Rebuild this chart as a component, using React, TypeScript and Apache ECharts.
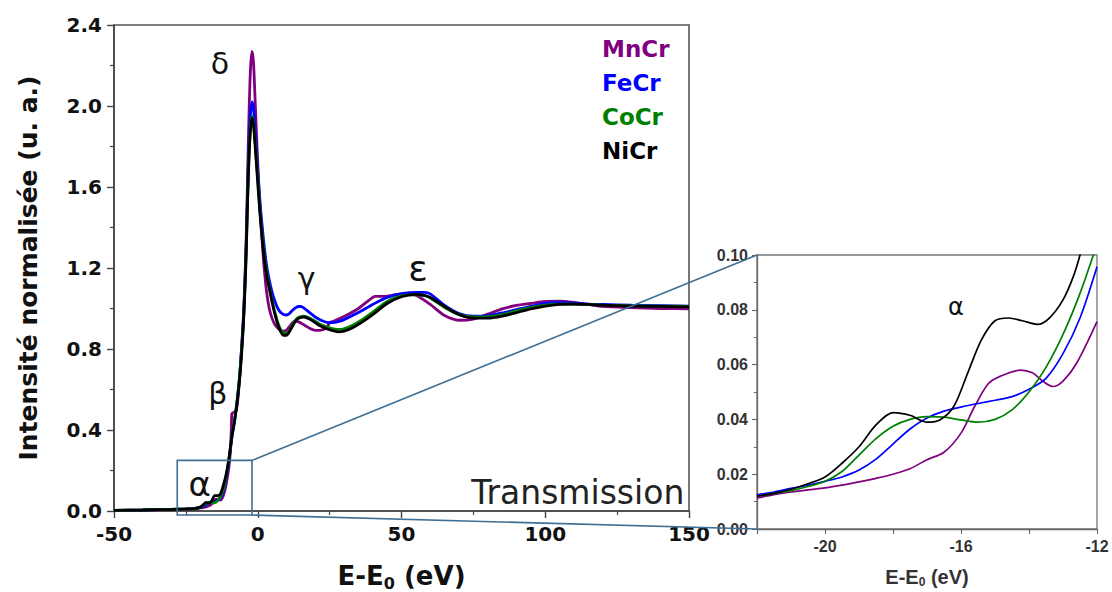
import React, { useEffect, useRef } from 'react';
import * as echarts from 'echarts';

const seriesNames = ['MnCr', 'FeCr', 'CoCr', 'NiCr'];
const seriesColors = ['#800080', '#0000ff', '#008000', '#000000'];

// Main spectra: [E-E0 (eV), normalised intensity]
const mnCr: number[][] = [
  [-50, 0.003], [-40, 0.004], [-30, 0.007], [-25, 0.009], [-22, 0.0113], [-20, 0.015], [-19, 0.0172], [-18, 0.02],
  [-17, 0.0253], [-16, 0.035], [-15, 0.0545], [-14, 0.058], [-13, 0.054], [-12, 0.0757], [-11, 0.13], [-10, 0.22],
  [-9.5, 0.3], [-9.2, 0.4], [-9, 0.48], [-8, 0.49], [-7.5, 0.495], [-7, 0.54], [-6.5, 0.62], [-6, 0.72], [-5, 0.96],
  [-4.5, 1.13], [-4, 1.36], [-3.5, 1.68], [-3, 1.98], [-2.5, 2.19], [-2, 2.27], [-1.5, 2.22], [-1, 2.06], [-0.5, 1.88],
  [0, 1.72], [0.5, 1.57], [1, 1.44], [2, 1.24], [3, 1.09], [4, 1.0], [5, 0.95], [6, 0.92], [7, 0.903], [8, 0.893],
  [9, 0.888], [10, 0.893], [11, 0.91], [12, 0.928], [13, 0.938], [14, 0.935], [16, 0.92], [18, 0.903], [20, 0.892],
  [22, 0.893], [24, 0.905], [25, 0.93], [26, 0.935], [30, 0.96], [35, 1.0], [40, 1.055], [41, 1.06], [44, 1.06],
  [48, 1.068], [52, 1.073], [55, 1.065], [60, 1.02], [65, 0.965], [70, 0.942], [75, 0.948], [80, 0.972], [85, 0.998],
  [90, 1.015], [95, 1.025], [100, 1.035], [105, 1.036], [110, 1.03], [115, 1.02], [120, 1.01], [130, 1.004], [140, 1.0],
  [150, 0.998],
];
const feCr: number[][] = [
  [-50, 0.003], [-40, 0.005], [-30, 0.008], [-25, 0.01], [-22, 0.0125], [-20, 0.0174], [-19, 0.0215], [-18, 0.031],
  [-17, 0.0405], [-16, 0.0445], [-15, 0.047], [-14, 0.051], [-13, 0.064], [-12, 0.0957], [-11, 0.16], [-10, 0.25],
  [-9, 0.36], [-8, 0.45], [-7, 0.56], [-6, 0.72], [-5, 0.94], [-4.5, 1.11], [-4, 1.32], [-3.5, 1.6], [-3, 1.83],
  [-2.5, 1.97], [-2, 2.02], [-1.5, 1.99], [-1, 1.9], [-0.5, 1.79], [0, 1.68], [0.5, 1.58], [1, 1.49], [2, 1.34],
  [3, 1.22], [4, 1.14], [5, 1.08], [6, 1.035], [7, 1.0], [8, 0.98], [9, 0.97], [10, 0.968], [11, 0.975], [12, 0.99],
  [13, 1.002], [14, 1.01], [15, 1.01], [16, 1.003], [18, 0.98], [20, 0.958], [22, 0.942], [24, 0.932], [26, 0.93],
  [28, 0.935], [30, 0.945], [35, 0.98], [40, 1.02], [45, 1.055], [50, 1.073], [55, 1.08], [58, 1.08], [60, 1.072],
  [65, 1.015], [70, 0.975], [75, 0.962], [80, 0.965], [85, 0.978], [90, 0.995], [95, 1.01], [100, 1.025], [105, 1.03],
  [110, 1.026], [115, 1.022], [120, 1.02], [130, 1.016], [140, 1.014], [150, 1.012],
];
const coCr: number[][] = [
  [-50, 0.003], [-40, 0.005], [-30, 0.008], [-25, 0.01], [-22, 0.012], [-20, 0.0174], [-19, 0.027], [-18, 0.0375],
  [-17, 0.041], [-16, 0.0398], [-15, 0.04], [-14, 0.05], [-13, 0.071], [-12, 0.104], [-11, 0.17], [-10, 0.26],
  [-9, 0.37], [-8, 0.46], [-7, 0.57], [-6, 0.72], [-5, 0.93], [-4.5, 1.09], [-4, 1.29], [-3.5, 1.56], [-3, 1.77],
  [-2.5, 1.9], [-2, 1.95], [-1.5, 1.92], [-1, 1.84], [-0.5, 1.74], [0, 1.64], [0.5, 1.54], [1, 1.45], [2, 1.3],
  [3, 1.19], [4, 1.11], [5, 1.04], [6, 0.98], [7, 0.93], [8, 0.895], [9, 0.878], [10, 0.878], [11, 0.893], [12, 0.918],
  [13, 0.94], [14, 0.955], [16, 0.962], [18, 0.953], [20, 0.937], [22, 0.92], [25, 0.905], [28, 0.897], [30, 0.9],
  [33, 0.917], [36, 0.942], [40, 0.982], [45, 1.035], [50, 1.062], [55, 1.068], [58, 1.063], [60, 1.052], [65, 1.005],
  [70, 0.97], [75, 0.958], [80, 0.96], [85, 0.97], [90, 0.988], [95, 1.005], [100, 1.017], [105, 1.022], [110, 1.022],
  [115, 1.02], [120, 1.017], [130, 1.013], [140, 1.012], [150, 1.01],
];
const niCr: number[][] = [
  [-50, 0.003], [-40, 0.005], [-30, 0.008], [-25, 0.01], [-22, 0.012], [-20, 0.019], [-19, 0.03], [-18, 0.0425],
  [-17, 0.039], [-16, 0.05], [-15, 0.076], [-14, 0.0755], [-13, 0.084], [-12, 0.125], [-11, 0.18], [-10, 0.26],
  [-9, 0.37], [-8, 0.45], [-7, 0.56], [-6, 0.7], [-5, 0.92], [-4.5, 1.08], [-4, 1.28], [-3.5, 1.55], [-3, 1.76],
  [-2.5, 1.89], [-2, 1.94], [-1.5, 1.91], [-1, 1.82], [-0.5, 1.72], [0, 1.62], [0.5, 1.52], [1, 1.43], [2, 1.28],
  [3, 1.17], [4, 1.1], [5, 1.03], [6, 0.97], [7, 0.92], [8, 0.885], [9, 0.868], [10, 0.868], [11, 0.885], [12, 0.91],
  [13, 0.935], [14, 0.95], [16, 0.958], [18, 0.948], [20, 0.93], [22, 0.912], [25, 0.895], [28, 0.885], [30, 0.888],
  [33, 0.905], [36, 0.93], [40, 0.97], [45, 1.025], [50, 1.058], [55, 1.07], [58, 1.065], [60, 1.055], [65, 1.01],
  [70, 0.97], [75, 0.952], [80, 0.952], [85, 0.962], [90, 0.98], [95, 0.998], [100, 1.012], [105, 1.02], [110, 1.022],
  [115, 1.02], [120, 1.016], [130, 1.012], [140, 1.01], [150, 1.008],
];

// Inset (pre-edge α region)
const insetMnCr: number[][] = [
  [-22, 0.0113], [-21.5, 0.0125], [-21, 0.0135], [-20.5, 0.0143], [-20, 0.015], [-19.5, 0.016], [-19, 0.0172],
  [-18.5, 0.0185], [-18, 0.02], [-17.5, 0.022], [-17, 0.0253], [-16.5, 0.028], [-16, 0.035], [-15.6, 0.0447],
  [-15.2, 0.053], [-14.85, 0.0557], [-14.25, 0.058], [-13.9, 0.057], [-13.6, 0.054], [-13.3, 0.052], [-13, 0.054],
  [-12.6, 0.0605], [-12, 0.0757],
];
const insetFeCr: number[][] = [
  [-22, 0.0125], [-21.5, 0.0135], [-21, 0.0148], [-20.5, 0.016], [-20, 0.0174], [-19.5, 0.019], [-19, 0.0215],
  [-18.5, 0.0255], [-18, 0.031], [-17.5, 0.0365], [-17, 0.0405], [-16.5, 0.043], [-16, 0.0445], [-15.5, 0.0458],
  [-15, 0.047], [-14.5, 0.0483], [-14, 0.051], [-13.5, 0.055], [-13, 0.064], [-12.5, 0.077], [-12, 0.0957],
];
const insetCoCr: number[][] = [
  [-22, 0.012], [-21.5, 0.013], [-21, 0.014], [-20.5, 0.0155], [-20, 0.0174], [-19.5, 0.021], [-19, 0.027],
  [-18.5, 0.033], [-18, 0.0375], [-17.5, 0.04], [-17, 0.041], [-16.5, 0.0408], [-16, 0.0398], [-15.5, 0.039],
  [-15, 0.04], [-14.5, 0.0435], [-14, 0.05], [-13.5, 0.059], [-13, 0.071], [-12.5, 0.086], [-12, 0.104],
];
const insetNiCr: number[][] = [
  [-22, 0.012], [-21.5, 0.013], [-21, 0.0145], [-20.5, 0.0165], [-20, 0.019], [-19.5, 0.024], [-19, 0.03],
  [-18.5, 0.038], [-18, 0.0425], [-17.5, 0.0415], [-17, 0.039], [-16.6, 0.04], [-16.2, 0.045], [-15.8, 0.057],
  [-15.4, 0.069], [-15, 0.076], [-14.6, 0.077], [-14.2, 0.076], [-13.75, 0.0747], [-13.4, 0.077], [-13, 0.0836],
  [-12.7, 0.092], [-12.5, 0.1], [-12.2, 0.115],
];

const mainSeries = [mnCr, feCr, coCr, niCr];
const insetSeries = [insetMnCr, insetFeCr, insetCoCr, insetNiCr];

// Zoom box in main-plot data coordinates: E range, intensity range
const zoomBoxE = [-28, -2];
const zoomBoxI = [-0.02, 0.25];

// Peak labels anchored in data coordinates [grid, E, I, text, size]
const peakLabels: [number, number, number, string, number][] = [
  [0, -13.2, 2.21, 'δ', 30],
  [0, 17.0, 1.15, 'γ', 30],
  [0, 55.7, 1.2, 'ε', 36],
  [0, -13.9, 0.58, 'β', 30],
  [0, -20.2, 0.135, 'α', 34],
  [1, -16.15, 0.081, 'α', 24],
];
const transmissionPos = [111.3, 0.092];

const MAIN_FONT = 'DejaVu Sans';
const INSET_FONT = 'Liberation Sans';
const AXIS_COLOR = '#444';

export default function App() {
  const ref = useRef<HTMLDivElement>(null);

  useEffect(() => {
    const chart = echarts.init(ref.current!, null, { renderer: 'svg' });

    const mainAxisCommon = {
      axisLine: { onZero: false, lineStyle: { color: AXIS_COLOR, width: 1.6 } },
      axisTick: { show: true, length: 7, lineStyle: { color: AXIS_COLOR, width: 1.4 } },
      minorTick: { show: true, splitNumber: 2, length: 4, lineStyle: { color: AXIS_COLOR, width: 1.2 } },
      splitLine: { show: false },
    };
    const insetAxisCommon = {
      axisLine: { onZero: false, lineStyle: { color: '#666', width: 1.3 } },
      axisTick: { show: true, length: 5, lineStyle: { color: '#666', width: 1.1 } },
      splitLine: { show: false },
    };

    const option: any = {
      animation: false,
      backgroundColor: '#ffffff',
      grid: [
        { left: 114, top: 25, width: 575, height: 486, show: true, borderColor: '#555', borderWidth: 1.6, outerBoundsMode: 'none', containLabel: false },
        { left: 757, top: 255, width: 340, height: 274, show: true, borderColor: '#777', borderWidth: 1.3, outerBoundsMode: 'none', containLabel: false },
      ],
      legend: {
        orient: 'vertical',
        left: 592,
        top: 31,
        itemGap: 8,
        itemWidth: 0,
        itemHeight: 0,
        icon: 'none',
        selectedMode: false,
        data: seriesNames.map((n, i) => ({ name: n, textStyle: { color: seriesColors[i] } })),
        textStyle: { fontFamily: MAIN_FONT, fontWeight: 'bold', fontSize: 23, lineHeight: 26 },
      },
      xAxis: [
        {
          gridIndex: 0, type: 'value', min: -50, max: 150, interval: 50,
          ...mainAxisCommon,
          axisLabel: { fontFamily: MAIN_FONT, fontWeight: 'bold', fontSize: 20, color: '#111', margin: 13 },
          name: '{a|E-E}{s|0}{a| (eV)}',
          nameLocation: 'middle',
          nameGap: 50,
          nameTextStyle: {
            rich: {
              a: { fontFamily: MAIN_FONT, fontWeight: 'bold', fontSize: 26, color: '#111', lineHeight: 30 },
              s: { fontFamily: MAIN_FONT, fontWeight: 'bold', fontSize: 16, color: '#111', lineHeight: 30, verticalAlign: 'bottom', padding: [12, 0, 0, 0] },
            },
          },
        },
        {
          gridIndex: 1, type: 'value', min: -22, max: -12, interval: 2,
          ...insetAxisCommon,
          axisLabel: {
            fontFamily: INSET_FONT, fontWeight: 'bold', fontSize: 16, color: '#333', margin: 9,
            formatter: (v: number) => (v % 4 === 0 ? String(v) : ''),
          },
          name: '{a|E-E}{s|0}{a| (eV)}',
          nameLocation: 'middle',
          nameGap: 37,
          nameTextStyle: {
            rich: {
              a: { fontFamily: INSET_FONT, fontWeight: 'bold', fontSize: 20, color: '#333', lineHeight: 22 },
              s: { fontFamily: INSET_FONT, fontWeight: 'bold', fontSize: 12, color: '#333', lineHeight: 22, verticalAlign: 'bottom', padding: [8, 0, 0, 0] },
            },
          },
        },
      ],
      yAxis: [
        {
          gridIndex: 0, type: 'value', min: 0, max: 2.4, interval: 0.4,
          ...mainAxisCommon,
          axisLabel: {
            fontFamily: MAIN_FONT, fontWeight: 'bold', fontSize: 20, color: '#111', margin: 12,
            formatter: (v: number) => v.toFixed(1),
          },
          name: 'Intensité normalisée (u. a.)',
          nameLocation: 'middle',
          nameGap: 73,
          nameTextStyle: { fontFamily: MAIN_FONT, fontWeight: 'bold', fontSize: 25, color: '#111' },
        },
        {
          gridIndex: 1, type: 'value', min: 0, max: 0.1, interval: 0.02,
          ...insetAxisCommon,
          minorTick: { show: true, splitNumber: 2, length: 3, lineStyle: { color: '#666' } },
          axisLabel: {
            fontFamily: INSET_FONT, fontWeight: 'bold', fontSize: 16, color: '#333', margin: 9,
            formatter: (v: number) => v.toFixed(2),
          },
        },
      ],
      series: [
        ...mainSeries.map((d, i) => ({
          name: seriesNames[i], type: 'line', xAxisIndex: 0, yAxisIndex: 0, data: d,
          showSymbol: false, smooth: 0.25, clip: true,
          lineStyle: { color: seriesColors[i], width: 2.8 }, itemStyle: { color: seriesColors[i] },
        })),
        ...insetSeries.map((d, i) => ({
          name: seriesNames[i], type: 'line', xAxisIndex: 1, yAxisIndex: 1, data: d,
          showSymbol: false, smooth: 0.3, clip: true,
          lineStyle: { color: seriesColors[i], width: 1.7 }, itemStyle: { color: seriesColors[i] },
        })),
      ],
    };

    chart.setOption(option);

    const px = (g: number, p: number[]) => chart.convertToPixel({ gridIndex: g } as any, p) as unknown as number[];
    const boxTL = px(0, [zoomBoxE[0], zoomBoxI[1]]);
    const boxBR = px(0, [zoomBoxE[1], zoomBoxI[0]]);
    const insetTL = px(1, [-22, 0.1]);
    const insetBL = px(1, [-22, 0]);
    const steel = '#3f6f94';

    const graphics: any[] = [
      {
        type: 'rect', z: 50,
        shape: { x: boxTL[0], y: boxTL[1], width: boxBR[0] - boxTL[0], height: boxBR[1] - boxTL[1] },
        style: { fill: 'none', stroke: steel, lineWidth: 1.6 },
      },
      {
        type: 'line', z: 50,
        shape: { x1: boxBR[0], y1: boxTL[1], x2: insetTL[0], y2: insetTL[1] },
        style: { stroke: steel, lineWidth: 1.6 },
      },
      {
        type: 'line', z: 50,
        shape: { x1: boxBR[0], y1: boxBR[1], x2: insetBL[0], y2: insetBL[1] },
        style: { stroke: steel, lineWidth: 1.6 },
      },
    ];
    peakLabels.forEach(([g, e, v, t, size]) => {
      const p = px(g, [e, v]);
      graphics.push({
        type: 'text', z: 60, x: p[0], y: p[1],
        style: { text: t, fontFamily: MAIN_FONT, fontSize: size, fill: '#111', align: 'center', verticalAlign: 'middle' },
      });
    });
    const tp = px(0, transmissionPos);
    graphics.push({
      type: 'text', z: 60, x: tp[0], y: tp[1],
      style: { text: 'Transmission', fontFamily: MAIN_FONT, fontSize: 33, fill: '#222', align: 'center', verticalAlign: 'middle' },
    });

    chart.setOption({ graphic: graphics });

    return () => chart.dispose();
  }, []);

  return <div ref={ref} style={{ position: 'absolute', left: 0, top: 0, width: 1112, height: 592 }} />;
}
